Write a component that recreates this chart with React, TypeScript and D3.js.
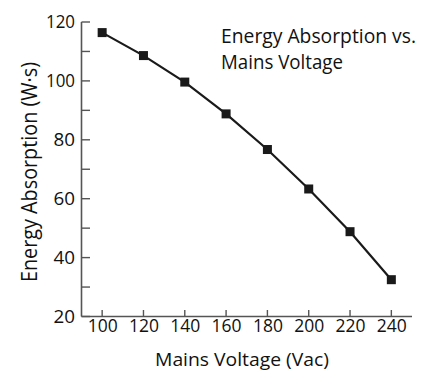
import React from "react";
import * as d3 from "d3";

const voltages = [100, 120, 140, 160, 180, 200, 220, 240];
const energy = [116.4, 108.6, 99.6, 88.8, 76.7, 63.3, 48.8, 32.5];
const yMajorTicks = [20, 40, 60, 80, 100, 120];
const yMinorTicks = [30, 50, 70, 90, 110];
const xTicks = [100, 120, 140, 160, 180, 200, 220, 240];
const titleLines = ["Energy Absorption vs.", "Mains Voltage"];
const xLabel = "Mains Voltage (Vac)";
const yLabel = "Energy Absorption (W·s)";

const W = 432;
const H = 371;
const FONT = "'Open Sans', 'Noto Sans', sans-serif";

export default function App() {
  const x = d3.scaleLinear().domain([90, 250]).range([81.5, 412]);
  const y = d3.scaleLinear().domain([20, 120]).range([316.5, 22]);
  const pts: [number, number][] = voltages.map((v, i) => [v, energy[i]]);
  const line = d3
    .line<[number, number]>()
    .x((d) => x(d[0]))
    .y((d) => y(d[1]));
  const axisColor = "#555";
  const ms = 9;

  return (
    <svg
      width={W}
      height={H}
      style={{ position: "absolute", left: 0, top: 0, background: "#fff" }}
      fontFamily={FONT}
    >
      <rect width={W} height={H} fill="#fff" />
      {/* axes */}
      <line x1={x(90)} x2={x(90)} y1={y(120)} y2={y(20)} stroke={axisColor} strokeWidth={1.6} />
      <line x1={x(90)} x2={x(250)} y1={y(20)} y2={y(20)} stroke={axisColor} strokeWidth={1.6} />
      {yMajorTicks.concat(yMinorTicks).map((t) => (
        <line key={"yt" + t} x1={x(90)} x2={x(90) + 8.5} y1={y(t)} y2={y(t)} stroke={axisColor} strokeWidth={1.4} />
      ))}
      {yMajorTicks.map((t) => (
        <text key={"yl" + t} x={75} y={y(t)} dy={6.3} textAnchor="end" fontSize={17.5} fill="#111"
          textLength={t >= 100 ? 29 : 21.5} lengthAdjust="spacingAndGlyphs">
          {t}
        </text>
      ))}
      {xTicks.map((t) => (
        <line key={"xt" + t} x1={x(t)} x2={x(t)} y1={y(20)} y2={y(20) - 6.5} stroke={axisColor} strokeWidth={1.4} />
      ))}
      {xTicks.map((t) => (
        <text key={"xl" + t} x={x(t) + 0.5} y={332} textAnchor="middle" fontSize={17.5} fill="#111"
          textLength={30} lengthAdjust="spacingAndGlyphs">
          {t}
        </text>
      ))}
      {/* data */}
      <path d={line(pts) || ""} fill="none" stroke="#1a1a1a" strokeWidth={2.2} />
      {pts.map((d, i) => (
        <rect key={"m" + i} x={x(d[0]) - ms / 2} y={y(d[1]) - ms / 2} width={ms} height={ms} fill="#1a1a1a" />
      ))}
      {/* labels */}
      <text x={242} y={366} textAnchor="middle" fontSize={18.5} fill="#111"
        textLength={174} lengthAdjust="spacingAndGlyphs">
        {xLabel}
      </text>
      <text transform={`translate(36.5,172) rotate(-90)`} textAnchor="middle" fontSize={21.5} fill="#111"
        textLength={220} lengthAdjust="spacingAndGlyphs">
        {yLabel}
      </text>
      {titleLines.map((s, i) => (
        <text key={"t" + i} x={221} y={43 + i * 25.6} fontSize={20} fill="#111"
          textLength={i === 0 ? 195 : 122} lengthAdjust="spacingAndGlyphs">
          {s}
        </text>
      ))}
    </svg>
  );
}
